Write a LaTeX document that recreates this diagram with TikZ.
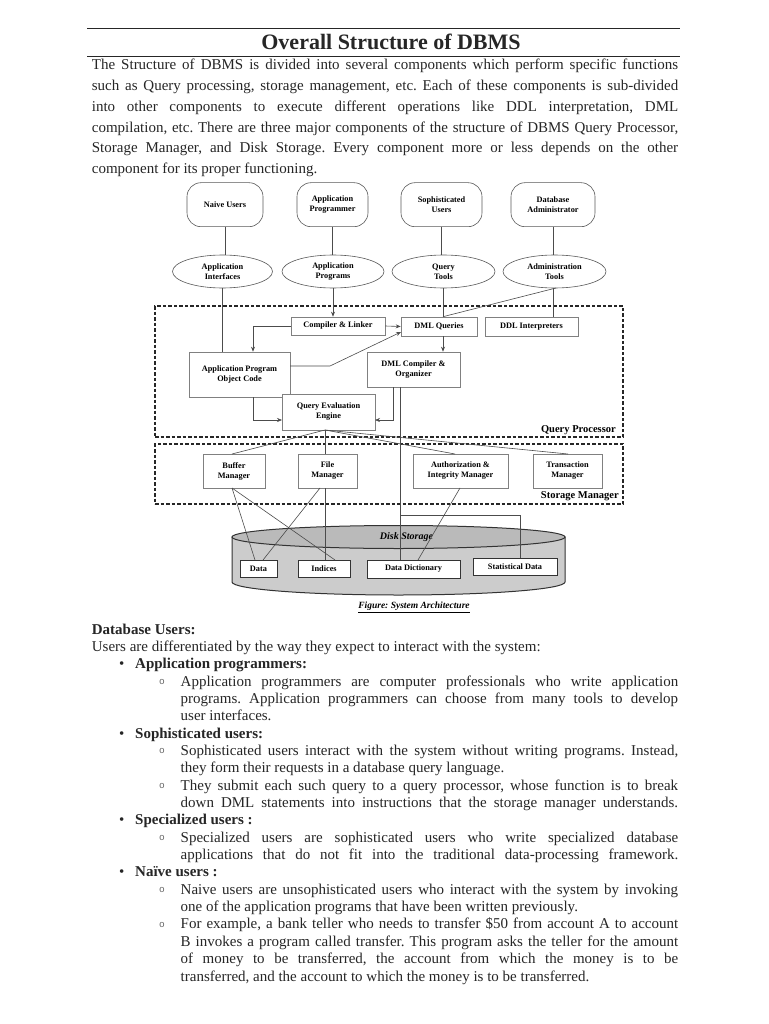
\documentclass[tikz,border=0pt]{standalone}
\usepackage{fontspec}
\setmainfont{Liberation Serif}
\newfontfamily\monofnt{Liberation Mono}
\usetikzlibrary{shapes.geometric,arrows.meta}
\frenchspacing
\newcommand{\dfnt}{\fontsize{8.3}{10}\selectfont\bfseries}
\newcommand{\bodyfnt}{\fontsize{15}{18}\selectfont\frenchspacing}
\newcommand{\jl}[1]{\makebox[586.3pt][s]{#1}}
\newcommand{\js}[1]{\makebox[497.5pt][s]{#1}}
\begin{document}
\begin{tikzpicture}[x=1pt,y=-1pt,
  usr/.style={draw=black!65, line width=0.6pt, rounded corners=14pt, align=center, font=\dfnt, inner sep=0pt, minimum height=44pt},
  tool/.style={ellipse, draw=black!65, line width=0.6pt, align=center, font=\dfnt, inner sep=0pt, minimum height=33pt},
  cbox/.style={draw=black!50, fill=white, line width=0.6pt, align=center, font=\dfnt, inner sep=0pt},
  dbox/.style={draw=black!80, fill=white, line width=0.7pt, align=center, font=\dfnt, inner sep=0pt},
  conn/.style={draw=black!70, line width=0.6pt},
  arrow/.style={conn, -{Stealth[length=5pt,width=4pt]}},
  dashbox/.style={draw=black!85, line width=1.1pt, dash pattern=on 3.5pt off 2pt, inner sep=0pt},
  body/.style={anchor=base west, inner sep=0pt, font=\bodyfnt, text=black!85},
  bold/.style={body, font=\bodyfnt\bfseries},
  sub/.style={anchor=base west, inner sep=0pt, yshift=1.8pt, font=\monofnt\fontsize{9.5}{9.5}\selectfont, text=black!60},
  rule/.style={draw=black!85, line width=1.1pt}
]
\useasboundingbox[fill=white] (0,0) rectangle (768,1024);

% header
\coordinate (r1a) at (87,28.3); \coordinate (r1b) at (680,28.3);
\coordinate (r2a) at (87,56.7); \coordinate (r2b) at (680,56.7);
\draw[rule] (r1a) -- (r1b);
\draw[rule] (r2a) -- (r2b);
\node[anchor=base, inner sep=0pt, font=\fontsize{22}{24}\selectfont\bfseries, text=black!85] (title) at (391,50) {Overall Structure of DBMS};

\node[body] (p1) at (91.7,70) {\jl{The Structure of DBMS is divided into several components which perform specific functions}};
\node[body] (p2) at (91.7,90.75) {\jl{such as Query processing, storage management, etc. Each of these components is sub-divided}};
\node[body] (p3) at (91.7,111.5) {\jl{into other components to execute different operations like DDL interpretation, DML}};
\node[body] (p4) at (91.7,132.25) {\jl{compilation, etc. There are three major components of the structure of DBMS Query Processor,}};
\node[body] (p5) at (91.7,153) {\jl{Storage Manager, and Disk Storage. Every component more or less depends on the other}};
\node[body] (p6) at (91.7,173.75) {component for its proper functioning.};

% ---------- diagram ----------
% containers
\node[dashbox, minimum width=468pt, minimum height=131pt] (qp) at (389,371.5) {};
\node[dashbox, minimum width=468pt, minimum height=60pt] (sm) at (389,474) {};
\node[anchor=base east, inner sep=0pt, font=\fontsize{10.5}{12}\selectfont\bfseries] (qpl) at (616,432) {Query Processor};
\node[anchor=base east, inner sep=0pt, font=\fontsize{10.5}{12}\selectfont\bfseries] (sml) at (619,498.5) {Storage Manager};

% users
\node[usr, minimum width=76pt] (naive) at (225,204.7) {Naive Users};
\node[usr, minimum width=71pt] (aprog) at (332.5,204.7) {Application\\Programmer};
\node[usr, minimum width=81pt] (soph) at (441.5,204.7) {Sophisticated\\Users};
\node[usr, minimum width=84pt] (dba) at (553,204.7) {Database\\Administrator};

% tools
\node[tool, minimum width=100pt] (ai) at (222.5,271.5) {Application\\Interfaces};
\node[tool, minimum width=102pt] (ap) at (333,271.5) {Application\\Programs};
\node[tool, minimum width=103pt] (qt) at (443.5,271.5) {Query\\Tools};
\node[tool, minimum width=103pt] (at) at (554.5,271.5) {Administration\\Tools};

% query processor boxes
\node[cbox, minimum width=94pt, minimum height=18pt] (cl) at (338,326) {Compiler \& Linker};
\node[cbox, minimum width=76pt, minimum height=19pt] (dmlq) at (439,326.5) {DML Queries};
\node[cbox, minimum width=93pt, minimum height=19pt] (ddl) at (531.5,326.5) {DDL Interpreters};
\node[cbox, minimum width=101pt, minimum height=45pt] (apoc) at (239.5,374.5) {Application Program\\Object Code};
\node[cbox, minimum width=93pt, minimum height=35pt] (dmlc) at (413.5,369.5) {DML Compiler \&\\Organizer};
\node[cbox, minimum width=93pt, minimum height=36pt] (qee) at (328.5,412) {Query Evaluation\\Engine};

% storage manager boxes
\node[cbox, minimum width=62pt, minimum height=34pt] (buf) at (234,471) {Buffer\\Manager};
\node[cbox, minimum width=59pt, minimum height=34pt] (fm) at (327.5,471) {File\\Manager};
\node[cbox, minimum width=95pt, minimum height=34pt] (auth) at (460.5,471) {Authorization \&\\Integrity Manager};
\node[cbox, minimum width=69pt, minimum height=34pt] (tm) at (567.5,471) {Transaction\\Manager};

% user -> tool
\draw[conn] (naive.south) -- (naive.south |- ai.north);
\draw[conn] (aprog.south) -- (aprog.south |- ap.north);
\draw[conn] (soph.south) -- (soph.south |- qt.north);
\draw[conn] (dba.south) -- (dba.south |- at.north);

% tools -> query processor
\coordinate (aiS) at (222,288);
\draw[conn] (aiS) -- (aiS |- apoc.north);
\coordinate (apS) at (333,288);
\draw[arrow] (apS) -- (apS |- cl.north);
\coordinate (qtS) at (443,288);
\draw[conn] (qtS) -- (qtS |- dmlq.north);
\coordinate (atS) at (553,288);
\draw[conn] (atS) -- (atS |- ddl.north);
\draw[conn] (556,288) -- (qtS |- dmlq.north);

% inside query processor
\draw[arrow] (cl.east) -- (dmlq.west);
\coordinate (clb) at (253,326);
\draw[arrow] (cl.west) -- (clb) -- (clb |- apoc.north);
\coordinate (ape) at (290,366);
\coordinate (apk) at (330,366);
\coordinate (dqw) at (401,332);
\draw[arrow] (ape) -- (apk) -- (dqw);
\coordinate (dqs) at (443,336);
\draw[arrow] (dqs) -- (dqs |- dmlc.north);
\coordinate (aps) at (253,397);
\coordinate (apb) at (253,420);
\draw[arrow] (aps) -- (apb) -- (282,420);
\coordinate (dcs) at (393,387);
\coordinate (dcb) at (393,420);
\draw[arrow] (dcs) -- (dcb) -- (375,420);

% cylinder
\draw[draw=black!80, line width=1pt, fill=black!20] (232,537) -- (232,582) arc[start angle=180, end angle=0, x radius=166.5, y radius=13] -- (565,537) -- cycle;
\draw[draw=black!80, line width=1pt, fill=black!27] (398.5,537) ellipse [x radius=166.5, y radius=11.5];
\node[inner sep=0pt, font=\fontsize{10}{12}\selectfont\bfseries\itshape] (dsl) at (406.5,537) {Disk Storage};

% disk boxes
\node[dbox, minimum width=37pt, minimum height=17pt] (data) at (258.5,568.5) {Data};
\node[dbox, minimum width=52pt, minimum height=17pt] (idx) at (324,568.5) {Indices};
\node[dbox, minimum width=93pt, minimum height=18pt] (dd) at (413.5,569) {Data Dictionary};
\node[dbox, minimum width=84pt, minimum height=17pt] (sd) at (515,566.5) {Statistical Data};

% query evaluation engine -> storage manager
\coordinate (qs) at (325,430);
\draw[conn] (qs) -- (232,454);
\draw[conn] (qs) -- (325,454);
\draw[conn] (qs) -- (455,454);
\draw[conn] (qs) -- (568,454);

% DML compiler -> data dictionary / statistical data
\coordinate (dcv) at (400,387);
\coordinate (dcj) at (400,515);
\draw[draw=black!70, line width=1pt] (dcv) -- (dcv |- dd.north);
\draw[conn] (dcj) -- (520,515) -- (520,558);

% storage manager -> disk
\coordinate (bfs) at (232,488);
\draw[conn] (bfs) -- (255,560);
\draw[conn] (bfs) -- (335,560);
\coordinate (fms) at (320,488);
\draw[conn] (fms) -- (263,560);
\coordinate (fmv) at (325,488);
\draw[conn] (fmv) -- (325,560);
\coordinate (aus) at (460,488);
\draw[conn] (aus) -- (418,560);

\node[inner sep=0pt, font=\fontsize{9.5}{11}\selectfont\bfseries\itshape] (cap) at (414,607) {\underline{Figure: System Architecture}};

% ---------- lower text ----------
\node[bold] (h0) at (91.7,634) {Database Users:};
\node[body] (t1) at (91.7,651.35) {Users are differentiated by the way they expect to interact with the system:};

\node[body] (b1) at (119,668.7) {•};
\node[bold] (h1) at (135,668.7) {Application programmers:};
\node[sub] (s1) at (159,686.05) {o};
\node[body] (t3) at (180.5,686.05) {\js{Application programmers are computer professionals who write application}};
\node[body] (t4) at (180.5,703.4) {\js{programs. Application programmers can choose from many tools to develop}};
\node[body] (t5) at (180.5,720.75) {user interfaces.};

\node[body] (b2) at (119,738.1) {•};
\node[bold] (h2) at (135,738.1) {Sophisticated users:};
\node[sub] (s2) at (159,755.45) {o};
\node[body] (t7) at (180.5,755.45) {\js{Sophisticated users interact with the system without writing programs. Instead,}};
\node[body] (t8) at (180.5,772.8) {they form their requests in a database query language.};
\node[sub] (s3) at (159,790.15) {o};
\node[body] (t9) at (180.5,790.15) {\js{They submit each such query to a query processor, whose function is to break}};
\node[body] (t10) at (180.5,807.5) {\js{down DML statements into instructions that the storage manager understands.}};

\node[body] (b3) at (119,824.85) {•};
\node[bold] (h3) at (135,824.85) {Specialized users :};
\node[sub] (s4) at (159,842.2) {o};
\node[body] (t12) at (180.5,842.2) {\js{Specialized users are sophisticated users who write specialized database}};
\node[body] (t13) at (180.5,859.55) {\js{applications that do not fit into the traditional data-processing framework.}};

\node[body] (b4) at (119,876.9) {•};
\node[bold] (h4) at (135,876.9) {Naïve users :};
\node[sub] (s5) at (159,894.25) {o};
\node[body] (t15) at (180.5,894.25) {\js{Naive users are unsophisticated users who interact with the system by invoking}};
\node[body] (t16) at (180.5,911.6) {one of the application programs that have been written previously.};
\node[sub] (s6) at (159,928.95) {o};
\node[body] (t17) at (180.5,928.95) {\js{For example, a bank teller who needs to transfer \$50 from account A to account}};
\node[body] (t18) at (180.5,946.3) {\js{B invokes a program called transfer. This program asks the teller for the amount}};
\node[body] (t19) at (180.5,963.65) {\js{of money to be transferred, the account from which the money is to be}};
\node[body] (t20) at (180.5,981) {transferred, and the account to which the money is to be transferred.};
\end{tikzpicture}
\end{document}
